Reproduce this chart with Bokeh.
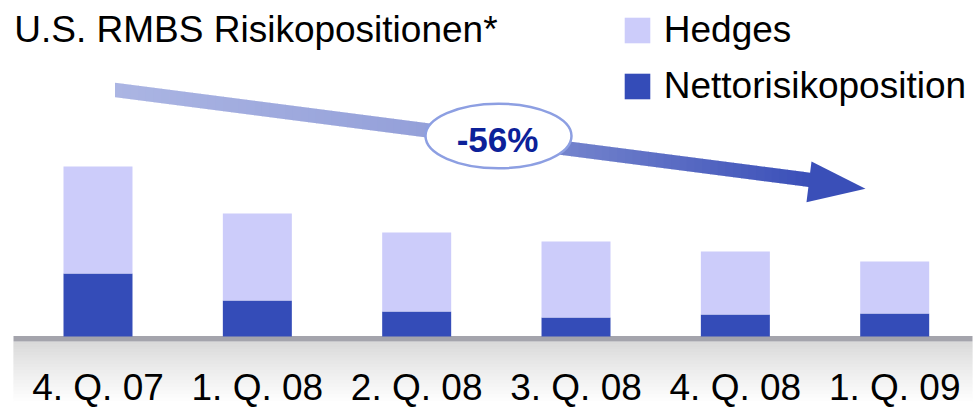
import numpy as np
from bokeh.plotting import figure
from bokeh.models import ColumnDataSource, Range1d, Legend, LegendItem
from bokeh.core.properties import value
from bokeh.embed import file_html
from bokeh.resources import INLINE

# ---- data ----
categories = ["4. Q. 07", "1. Q. 08", "2. Q. 08", "3. Q. 08", "4. Q. 08", "1. Q. 09"]
net_exposure = [63, 36, 25, 19, 22, 23]
hedges = [107, 87, 79, 76, 63, 52]
title_text = "U.S. RMBS Risikopositionen*"
change_label = "-56%"
legend_labels = ["Hedges", "Nettorisikoposition"]

# ---- style ----
FONT = "Liberation Sans"
NET_COLOR = "#344cb8"
HEDGE_COLOR = "#ccccfa"
MID = 0.3465  # distance baseline -> middle, in em

W, H = 974, 408
PX_PER_CAT = 159.34
x_start = -97.5 / PX_PER_CAT
x_end = x_start + W / PX_PER_CAT
BASE = 336
y_start = -(H - BASE)
y_end = BASE

p = figure(width=W, height=H, output_backend="svg", toolbar_location=None,
           x_range=Range1d(x_start, x_end), y_range=Range1d(y_start, y_end),
           x_axis_location=None, y_axis_location=None, min_border=0,
           outline_line_color=None, background_fill_color="white",
           border_fill_color="white")
p.grid.visible = False
p.extra_x_ranges = {"px": Range1d(0, W)}
p.extra_y_ranges = {"py": Range1d(-H, 0)}
PXR = dict(x_range_name="px", y_range_name="py")

# ---- gray floor band with gradient ----
ys = np.arange(341, 408)
t = np.clip((ys - 341) / 60.0, 0, 1)
band_cols = ["#%02x%02x%02x" % (int(v), int(v), int(v)) for v in (216 + (255 - 216) * t ** 0.85)]
p.quad(left=13, right=972, top=list(-ys.astype(float)), bottom=list(-(ys + 1.6)),
       fill_color=band_cols, line_color=None, **PXR)
p.quad(left=[13], right=[972], top=[-335.5], bottom=[-341], fill_color="#a4a4ac",
       line_color=None, **PXR)

# ---- stacked bars ----
source = ColumnDataSource(dict(x=list(range(len(categories))), cat=categories,
                               net=net_exposure, hedges=hedges))
rs = p.vbar_stack(["net", "hedges"], x="x", width=0.433, source=source,
                  fill_color=[NET_COLOR, HEDGE_COLOR], line_color=None)
r_net, r_hedge = rs

label_base = 399.8
p.text(x="x", y=BASE - (label_base - MID * 37), text="cat", source=source,
       text_align="center", text_baseline="middle", text_font=value(FONT),
       text_font_size="37px", text_color="black")

# ---- gradient arrow ----
stops_x = [114.5, 425, 570, 810]
stops_c = np.array([(171, 181, 227), (148, 160, 217), (114, 130, 204), (58, 79, 184)], float)
x0, y0, x1, y1 = 114.5, 89.5, 810.0, 179.5
slope = (y1 - y0) / (x1 - x0)
half = 7.25
edges = np.linspace(x0, x1, 91)
axs, ays, acols = [], [], []
for a, b in zip(edges[:-1], edges[1:]):
    b2 = min(b + 0.8, x1)
    ca, cb = y0 + slope * (a - x0), y0 + slope * (b2 - x0)
    axs.append([a, b2, b2, a])
    ays.append([-(ca - half), -(cb - half), -(cb + half), -(ca + half)])
    m = 0.5 * (a + b)
    c = [np.interp(m, stops_x, stops_c[:, k]) for k in range(3)]
    acols.append("#%02x%02x%02x" % tuple(int(round(v)) for v in c))
p.patches(xs=axs, ys=ays, fill_color=acols, line_color=None, **PXR)
p.patch(x=[806, 811, 865], y=[-201.7, -161, -188.3], fill_color="#3a4fb8",
        line_color=None, **PXR)

# ---- ellipse with change label ----
p.ellipse(x=[498], y=[-135.5], width=[146], height=[64.5], fill_color="white",
          line_color="#8d9fe2", line_width=2.5, **PXR)
p.text(x=[497], y=[-(151 - MID * 35)], text=[change_label], text_align="center",
       text_baseline="middle", text_font=value(FONT), text_font_size="35px",
       text_font_style="bold", text_color="#0c2199", **PXR)

# ---- title ----
p.text(x=[13.8], y=[-(41.5 - MID * 37)], text=[title_text], text_align="left",
       text_baseline="middle", text_font=value(FONT), text_font_size="37px",
       text_color="black", **PXR)

# ---- legend ----
legend = Legend(items=[LegendItem(label=legend_labels[0], renderers=[r_hedge]),
                       LegendItem(label=legend_labels[1], renderers=[r_net])],
                location=(620.75, 301.25), orientation="vertical", padding=0,
                margin=0, spacing=14, glyph_width=32, glyph_height=32,
                label_standoff=11, label_text_font=FONT,
                label_text_font_size="37px", label_text_color="black",
                border_line_color=None, background_fill_alpha=0)
p.add_layout(legend)

open("out.html", "w").write(file_html(p, INLINE))
